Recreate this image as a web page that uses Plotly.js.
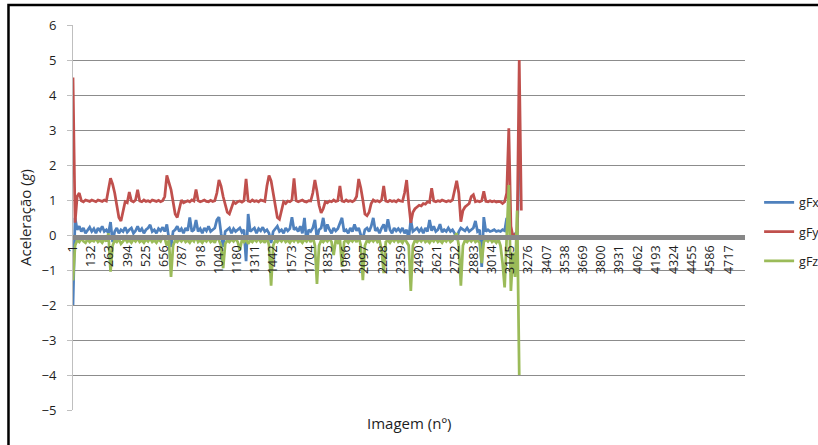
<!DOCTYPE html>
<html>
<head>
<meta charset="utf-8">
<script src="https://cdn.plot.ly/plotly-3.0.1.min.js"></script>
<style>html,body{margin:0;padding:0;background:#fff;}#chart{width:818px;height:445px;}</style>
</head>
<body>
<div id="chart"></div>
<script>
// Category (image number) sampling: first image and spacing between samples
var firstImage = 1;
var imageStep = 15;
var lastImage = 4835;
var tickStart = 1;
var tickStep = 131;

var seriesNames = ["gFx", "gFy", "gFz"];

var gFx = [
 -2.0, 0.49, 0.15, 0.25, 0.1, 0.2, 0.05, 0.15, 0.22, 0.1,
 0.18, 0.05, 0.2, 0.12, 0.25, 0.1, 0.15, 0.05, 0.37, -0.2,
 0.1, 0.2, 0.05, 0.15, 0.1, 0.22, 0.08, 0.15, 0.2, 0.05,
 0.12, 0.25, 0.1, 0.18, 0.05, 0.15, 0.2, 0.29, 0.1, 0.15,
 0.05, 0.18, 0.12, 0.22, 0.1, 0.3, -0.1, -0.34, 0.1, 0.15,
 0.25, 0.1, 0.18, 0.05, 0.2, 0.12, 0.5, 0.1, 0.15, 0.43,
 0.1, 0.18, 0.05, 0.2, 0.12, 0.25, 0.1, 0.15, 0.2, 0.43,
 0.51, 0.05, -0.34, 0.1, 0.15, 0.2, 0.05, 0.18, 0.1, 0.15,
 0.2, 0.08, 0.15, -0.75, 0.6, 0.1, 0.15, 0.2, 0.05, 0.18,
 0.12, 0.22, 0.1, 0.15, 0.05, -0.23, 0.1, 0.18, 0.25, 0.1,
 0.15, 0.05, 0.2, 0.12, 0.18, 0.51, 0.15, 0.2, 0.1, 0.25,
 0.05, 0.49, -0.2, 0.15, 0.1, 0.2, 0.43, -0.1, 0.15, 0.2,
 0.49, 0.1, 0.3, 0.15, 0.05, 0.2, 0.12, 0.18, 0.34, 0.49,
 0.1, 0.15, 0.05, 0.2, 0.1, 0.3, 0.12, 0.2, 0.0, -0.1,
 0.15, 0.2, 0.1, 0.25, 0.49, 0.12, 0.18, 0.05, 0.2, 0.3,
 0.1, 0.45, 0.15, 0.05, 0.2, 0.12, 0.18, 0.1, 0.2, 0.05,
 0.15, -0.1, 0.43, 0.1, 0.15, 0.2, 0.1, 0.18, 0.05, 0.2,
 0.1, 0.43, 0.12, 0.25, 0.1, 0.15, 0.31, 0.08, 0.15, 0.1,
 0.2, 0.1, 0.15, 0.05, -0.14, 0.1, 0.2, 0.15, 0.12, 0.2,
 0.1, 0.15, 0.2, 0.4, 0.1, 0.15, -0.91, 0.51, 0.1, 0.15,
 0.1, 0.12, 0.15, 0.1, 0.12, 0.1, 0.15, 0.12, 0.49, 0.2,
 0.1, -0.03, 0.05, -0.1, 2.3
];

var gFy = [
 4.5, 0.35, 1.1, 1.2, 0.98, 0.95, 1.0, 0.97, 0.96, 1.0,
 0.97, 0.95, 1.0, 0.98, 0.96, 1.0, 0.97, 1.3, 1.62, 1.45,
 1.2, 0.85, 0.5, 0.4, 0.7, 0.95, 0.92, 1.23, 0.98, 0.95,
 1.0, 1.29, 0.97, 0.95, 1.0, 0.96, 0.98, 0.95, 1.0, 0.97,
 0.96, 0.99, 0.95, 0.98, 1.1, 1.7, 1.5, 1.3, 0.95, 0.6,
 0.5, 0.8, 1.0, 0.92, 0.95, 0.98, 0.95, 1.0, 0.97, 1.3,
 0.98, 0.95, 0.97, 1.0, 0.96, 0.95, 0.99, 0.96, 0.98, 1.2,
 1.57, 1.4, 1.1, 0.85, 0.65, 0.6, 0.8, 0.95, 0.9, 0.95,
 0.97, 0.94, 0.98, 1.6, 0.97, 0.95, 1.0, 0.96, 0.98, 0.95,
 1.0, 0.97, 0.96, 1.4, 1.7, 1.55, 1.2, 0.8, 0.5, 0.45,
 0.75, 0.95, 0.9, 0.97, 0.95, 1.0, 1.62, 0.98, 0.95, 0.97,
 1.0, 0.96, 0.94, 0.98, 0.97, 1.2, 1.57, 1.25, 0.85, 0.63,
 0.75, 0.95, 0.92, 0.97, 0.95, 1.0, 0.96, 0.98, 1.4, 0.97,
 0.95, 1.0, 0.96, 0.98, 0.95, 0.99, 1.1, 1.6, 1.35, 1.0,
 0.6, 0.55, 0.65, 0.9, 1.0, 0.96, 0.98, 0.95, 1.0, 1.4,
 0.97, 0.95, 0.99, 0.96, 0.98, 0.95, 1.0, 0.97, 0.96, 1.2,
 1.57, 0.9, 0.35, 0.65, 0.75, 0.8, 0.85, 0.83, 0.9, 0.88,
 0.95, 0.93, 1.34, 0.97, 0.95, 0.98, 0.96, 1.0, 0.97, 0.95,
 0.98, 0.96, 1.0, 1.3, 1.55, 1.2, 0.38, 0.7, 0.8, 0.85,
 0.9, 1.1, 1.15, 0.95, 0.97, 0.95, 0.98, 1.25, 0.96, 0.95,
 0.98, 0.95, 0.97, 0.94, 0.96, 0.95, 0.9, 0.95, 1.2, 3.05,
 0.25, -0.05, 0.0, 0.1, 5.0, 0.7
];

var gFz = [
 -1.3, -0.3, -0.15, -0.2, -0.1, -0.18, -0.22, -0.12, -0.2, -0.15,
 -0.18, -0.1, -0.2, -0.15, -0.22, -0.12, -0.18, 0.05, -1.05, -0.3,
 -0.15, -0.2, -0.12, -0.25, -0.18, -0.1, -0.2, -0.15, -0.22, -0.12,
 -0.18, -0.1, -0.2, -0.15, -0.22, -0.12, -0.18, -0.1, -0.2, -0.15,
 -0.22, -0.12, -0.18, -0.05, -0.1, -0.3, -0.15, -1.2, -0.3, -0.15,
 -0.2, -0.12, -0.18, -0.1, -0.2, -0.15, -0.22, -0.12, -0.18, -0.05,
 -0.2, -0.15, -0.22, -0.12, -0.18, -0.1, -0.2, -0.15, -0.22, -0.05,
 -0.15, -0.3, -0.95, -0.25, -0.15, -0.2, -0.12, -0.18, -0.1, -0.2,
 -0.43, -0.15, -0.2, -0.12, -0.25, -0.15, -0.2, -0.12, -0.18, -0.1,
 -0.2, -0.15, -0.22, -0.05, -0.3, -1.45, -0.3, -0.15, -0.2, -0.12,
 -0.18, -0.1, -0.2, -0.15, -0.22, -0.12, -0.18, -0.1, -0.2, -0.15,
 -0.22, -0.12, -0.18, -0.1, -0.2, -0.05, -0.3, -1.4, -0.3, -0.15,
 -0.2, -0.12, -0.18, -0.1, -0.2, -0.57, -0.15, -0.22, -0.12, -0.91,
 -0.2, -0.15, -0.22, -0.12, -0.18, -0.1, -0.2, -0.05, -0.3, -1.29,
 -0.3, -0.15, -0.2, -0.12, -0.18, -0.1, -0.2, -0.15, -0.43, -1.09,
 -0.2, -0.15, -0.22, -0.12, -0.18, -0.1, -0.2, -0.15, -0.22, -0.1,
 -0.2, -0.3, -1.6, -0.3, -0.15, -0.2, -0.12, -0.18, -0.1, -0.2,
 -0.15, -0.22, -0.12, -0.18, -0.1, -0.2, -0.15, -0.22, -0.12, -0.18,
 -0.1, -0.2, -0.15, -0.05, 0.05, -0.3, -1.45, -0.3, -0.15, -0.2,
 -0.12, -0.18, -0.1, -0.2, -0.15, -0.22, -0.8, -0.2, -0.12, -0.18,
 -0.1, -0.2, -0.15, -0.22, -0.12, -0.3, -0.8, -1.5, -0.2, 1.43,
 -1.6, -0.5, -1.2, 0.7, -4.0
];

var seriesValues = [gFx, gFy, gFz];
var seriesColors = ["#4F81BD", "#C0504D", "#9BBB59"];

var FONT = "'Open Sans', 'Noto Sans', sans-serif";
var TXT = "#1e1e1e";

var traces = seriesNames.map(function (name, k) {
  return {
    type: "scatter",
    mode: "lines",
    name: name,
    legendgroup: name,
    x0: firstImage,
    dx: imageStep,
    y: seriesValues[k],
    line: { color: seriesColors[k], width: 2.75 },
    hoverinfo: "skip"
  };
});

var layout = {
  width: 818,
  height: 445,
  paper_bgcolor: "#ffffff",
  plot_bgcolor: "#ffffff",
  font: { family: FONT, size: 12.5, color: TXT },
  margin: { l: 73, r: 73, t: 25, b: 35, pad: 0, autoexpand: false },
  showlegend: true,
  legend: {
    x: 1.021, y: 0.577, xanchor: "left", yanchor: "top",
    font: { family: FONT, size: 12.5, color: TXT },
    tracegroupgap: 10,
    bgcolor: "rgba(0,0,0,0)"
  },
  xaxis: {
    range: [firstImage, lastImage],
    anchor: "free",
    position: 4.93 / 11,
    showline: true,
    linecolor: "#878787",
    linewidth: 5,
    showgrid: false,
    zeroline: false,
    tickmode: "linear",
    tick0: tickStart,
    dtick: tickStep,
    tickangle: -90,
    ticks: "",
    tickfont: { family: FONT, size: 12.5, color: TXT },
    automargin: false,
    fixedrange: true
  },
  yaxis: {
    range: [-5, 6],
    dtick: 1,
    tick0: 0,
    showgrid: true,
    gridcolor: "#8c8c8c",
    gridwidth: 1,
    zeroline: false,
    showline: true,
    linecolor: "#bfbfbf",
    linewidth: 1,
    ticks: "outside",
    ticklen: 5,
    tickcolor: "#bfbfbf",
    ticklabelstandoff: 8,
    tickfont: { family: FONT, size: 13, color: TXT },
    title: { text: "Aceleração (<i>g</i>)", font: { family: FONT, size: 15, color: TXT }, standoff: 6 },
    automargin: false,
    fixedrange: true
  },
  annotations: [{
    xref: "paper", yref: "paper",
    x: 0.5, y: -0.034,
    xanchor: "center", yanchor: "middle",
    showarrow: false,
    text: "Imagem (nº)",
    font: { family: FONT, size: 15, color: TXT }
  }],
  shapes: [{
    type: "rect", xref: "paper", yref: "paper",
    x0: -0.096, x1: 1.6, y0: -0.6, y1: 1.052,
    line: { color: "#000000", width: 2.5 },
    fillcolor: "rgba(0,0,0,0)",
    layer: "below"
  }]
};

Plotly.newPlot("chart", traces, layout, { displayModeBar: false, staticPlot: true });
</script>
</body>
</html>
